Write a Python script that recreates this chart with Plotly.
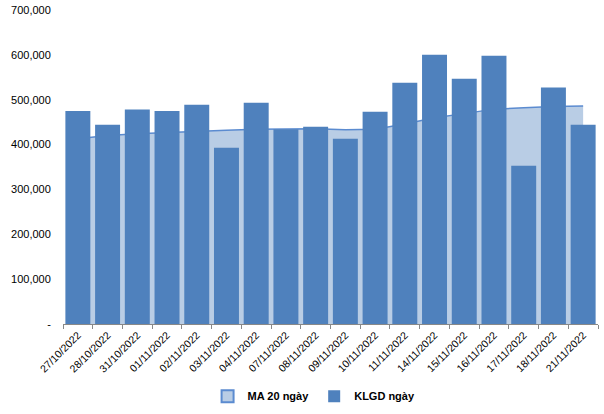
import plotly.graph_objects as go

dates = ["27/10/2022", "28/10/2022", "31/10/2022", "01/11/2022", "02/11/2022", "03/11/2022",
         "04/11/2022", "07/11/2022", "08/11/2022", "09/11/2022", "10/11/2022", "11/11/2022",
         "14/11/2022", "15/11/2022", "16/11/2022", "17/11/2022", "18/11/2022", "21/11/2022"]
klgd = [475000, 444000, 478000, 475000, 489000, 393000, 493000, 434000, 440000, 413000,
        473000, 538000, 600000, 547000, 598000, 353000, 527000, 444000]
ma20 = [413000, 420000, 424000, 427000, 430000, 432000, 434000, 435000, 435000, 433000,
        434000, 446000, 460000, 469000, 479000, 482000, 485000, 486000]
ytick_vals = [0, 100000, 200000, 300000, 400000, 500000, 600000, 700000]
ytick_text = ["-", "100,000", "200,000", "300,000", "400,000", "500,000", "600,000", "700,000"]

FONT = "Liberation Sans, Arial, sans-serif"

fig = go.Figure()
fig.add_trace(go.Scatter(
    x=dates, y=ma20, name="MA 20 ngày", mode="lines", fill="tozeroy",
    fillcolor="#B9CDE5", line=dict(color="#5B8BD0", width=1.5),
    xaxis="x", yaxis="y", showlegend=False,
))
# legend swatch for the MA area (square, light fill with blue border)
fig.add_trace(go.Scatter(
    x=[None], y=[None], name="MA 20 ngày", mode="markers",
    marker=dict(symbol="square", size=8, color="#B9CDE5", line=dict(color="#5B8BD0", width=1)),
    xaxis="x", yaxis="y",
))
fig.add_trace(go.Bar(
    x=dates, y=klgd, name="KLGD ngày", marker=dict(color="#4F81BD", line=dict(width=0)),
    xaxis="x", yaxis="y2",
))

fig.update_layout(
    width=604, height=414,
    margin=dict(l=63, r=6, t=10, b=90),
    paper_bgcolor="white", plot_bgcolor="white",
    bargap=0.16,
    showlegend=True,
    font=dict(family=FONT, color="#000000"),
    legend=dict(orientation="h", xref="container", yref="container", x=0.52, y=0.043,
                xanchor="center", yanchor="middle",
                font=dict(size=11, family=FONT, weight="bold"),
                traceorder="normal", itemwidth=30, itemsizing="constant"),
    xaxis=dict(type="category", showgrid=False, showline=True, linecolor="#898989", linewidth=1,
               ticks="outside", tickson="boundaries", ticklen=4, tickcolor="#898989",
               tickangle=-45, tickfont=dict(size=10.5), automargin=False),
    yaxis=dict(range=[0, 700000], showgrid=False, zeroline=False, showline=False,
               tickvals=ytick_vals, ticktext=ytick_text, tickfont=dict(size=11),
               ticks="outside", ticklen=9, tickcolor="rgba(0,0,0,0)", automargin=False),
    yaxis2=dict(range=[0, 700000], overlaying="y", visible=False),
)

fig.write_html("out.html", config={"displayModeBar": False},
               post_script="document.body.style.margin='0';")
